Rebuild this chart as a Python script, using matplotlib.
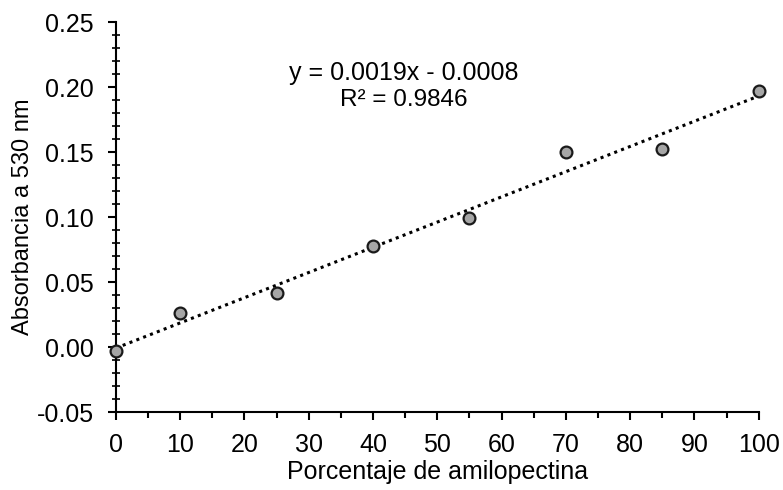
import matplotlib.pyplot as plt
from matplotlib.ticker import MultipleLocator
import numpy as np

# datos de la curva de calibración
porcentaje = [0, 10, 25, 40, 55, 70, 85, 100]
absorbancia = [-0.003, 0.026, 0.0415, 0.0777, 0.099, 0.150, 0.152, 0.197]
ecuacion = 'y = 0.0019x - 0.0008'
r2 = 'R² = 0.9846'

plt.rcParams['font.family'] = ['Liberation Sans', 'DejaVu Sans']

fig = plt.figure(figsize=(7.83, 4.9), dpi=100)
ax = fig.add_axes([0.148, 0.159, 0.821, 0.796])

# línea de tendencia
m, b = np.polyfit(porcentaje, absorbancia, 1)
xs = np.array([0, 100])
ax.plot(xs, m * xs + b, color='black', linestyle=(0, (1, 1.4)), linewidth=2.2, zorder=2)

ax.plot(porcentaje, absorbancia, 'o', markersize=8.5, markerfacecolor='#a6a6a6',
        markeredgecolor='#1a1a1a', markeredgewidth=1.6, clip_on=False, zorder=3)

ax.text(44.8, 0.211, ecuacion, ha='center', va='center', fontsize=18)
ax.text(44.8, 0.190, r2, ha='center', va='center', fontsize=17.5)

ax.set_xlim(0, 100)
ax.set_ylim(-0.05, 0.25)
ax.xaxis.set_major_locator(MultipleLocator(10))
ax.xaxis.set_minor_locator(MultipleLocator(5))
ax.yaxis.set_major_locator(MultipleLocator(0.05))
ax.yaxis.set_minor_locator(MultipleLocator(0.01))
ax.yaxis.set_major_formatter(plt.FormatStrFormatter('%.2f'))

for s in ['top', 'right']:
    ax.spines[s].set_visible(False)
for s in ['left', 'bottom']:
    ax.spines[s].set_linewidth(1.5)

ax.tick_params(which='major', direction='out', length=6, width=1.5, labelsize=18)
ax.tick_params(axis='y', which='major', pad=10)
ax.tick_params(axis='x', which='major', pad=9)
ax.tick_params(axis='x', which='minor', direction='out', length=4, width=1.5)
ax.tick_params(axis='y', which='minor', direction='inout', length=6, width=1.2)

ax.set_xlabel('Porcentaje de amilopectina', fontsize=18, labelpad=2)
ax.set_ylabel('Absorbancia a 530 nm', fontsize=17, labelpad=2)

fig.savefig('out.png', dpi=100)
